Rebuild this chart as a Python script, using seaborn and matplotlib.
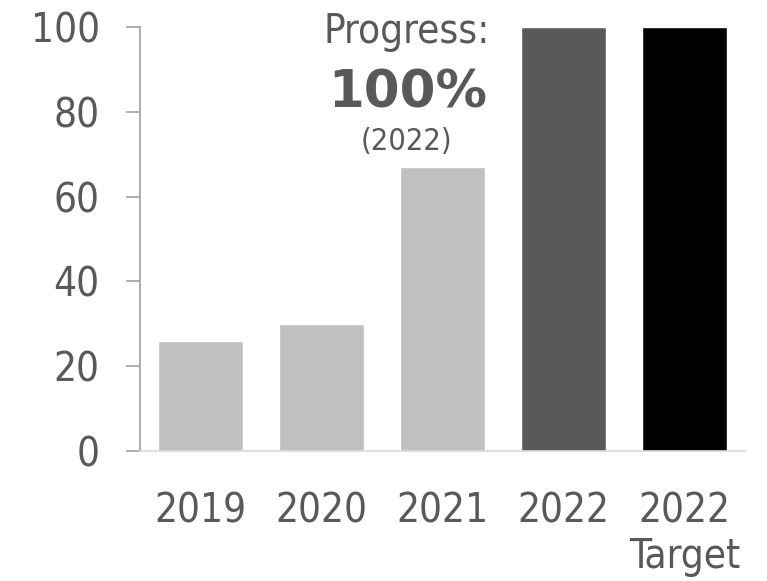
import matplotlib
matplotlib.use("Agg")
import matplotlib.pyplot as plt
import seaborn as sns
import pandas as pd

# data
categories = ["2019", "2020", "2021", "2022", "2022\nTarget"]
values = [26, 30, 67, 100, 100]
bar_colors = ["#c0c0c0", "#c0c0c0", "#c0c0c0", "#595959", "#000000"]
y_ticks = [0, 20, 40, 60, 80, 100]

text_color = "#595959"

sns.set_theme(style="white")
plt.rcParams["font.family"] = ["DejaVu Sans"]
plt.rcParams["font.stretch"] = "condensed"

df = pd.DataFrame({"year": categories, "value": values})

fig = plt.figure(figsize=(7.67, 5.81), dpi=100)
ax = fig.add_axes([140 / 767, 1 - 451 / 581, 605 / 767, 424 / 581])

sns.barplot(data=df, x="year", y="value", hue="year", palette=bar_colors,
            width=0.7, legend=False, ax=ax, saturation=1)

ax.set_xlim(-0.5, 4.5)
ax.set_ylim(0, 100)
ax.set_yticks(y_ticks)
ax.set_xlabel("")
ax.set_ylabel("")

for s in ["top", "right"]:
    ax.spines[s].set_visible(False)
ax.spines["left"].set_color("#a0a0a0")
ax.spines["left"].set_linewidth(1.2)
ax.spines["bottom"].set_color("#d9d9d9")
ax.spines["bottom"].set_linewidth(1.2)

ax.tick_params(axis="y", direction="out", length=10, width=1.2, color="#a0a0a0",
               labelsize=29, labelcolor=text_color, pad=19, left=True)
ax.tick_params(axis="x", length=0, labelsize=29, labelcolor=text_color, pad=29)

# progress annotation
ax.text(0.441, 0.962, "Progress:", transform=ax.transAxes, ha="center",
        va="baseline", fontsize=29, color=text_color)
ax.text(0.443, 0.811, "100%", transform=ax.transAxes, ha="center",
        va="baseline", fontsize=37, fontweight="bold", fontstretch="normal",
        color=text_color)
ax.text(0.441, 0.71, "(2022)", transform=ax.transAxes, ha="center",
        va="baseline", fontsize=22, color=text_color)

fig.savefig("out.png", dpi=100)
